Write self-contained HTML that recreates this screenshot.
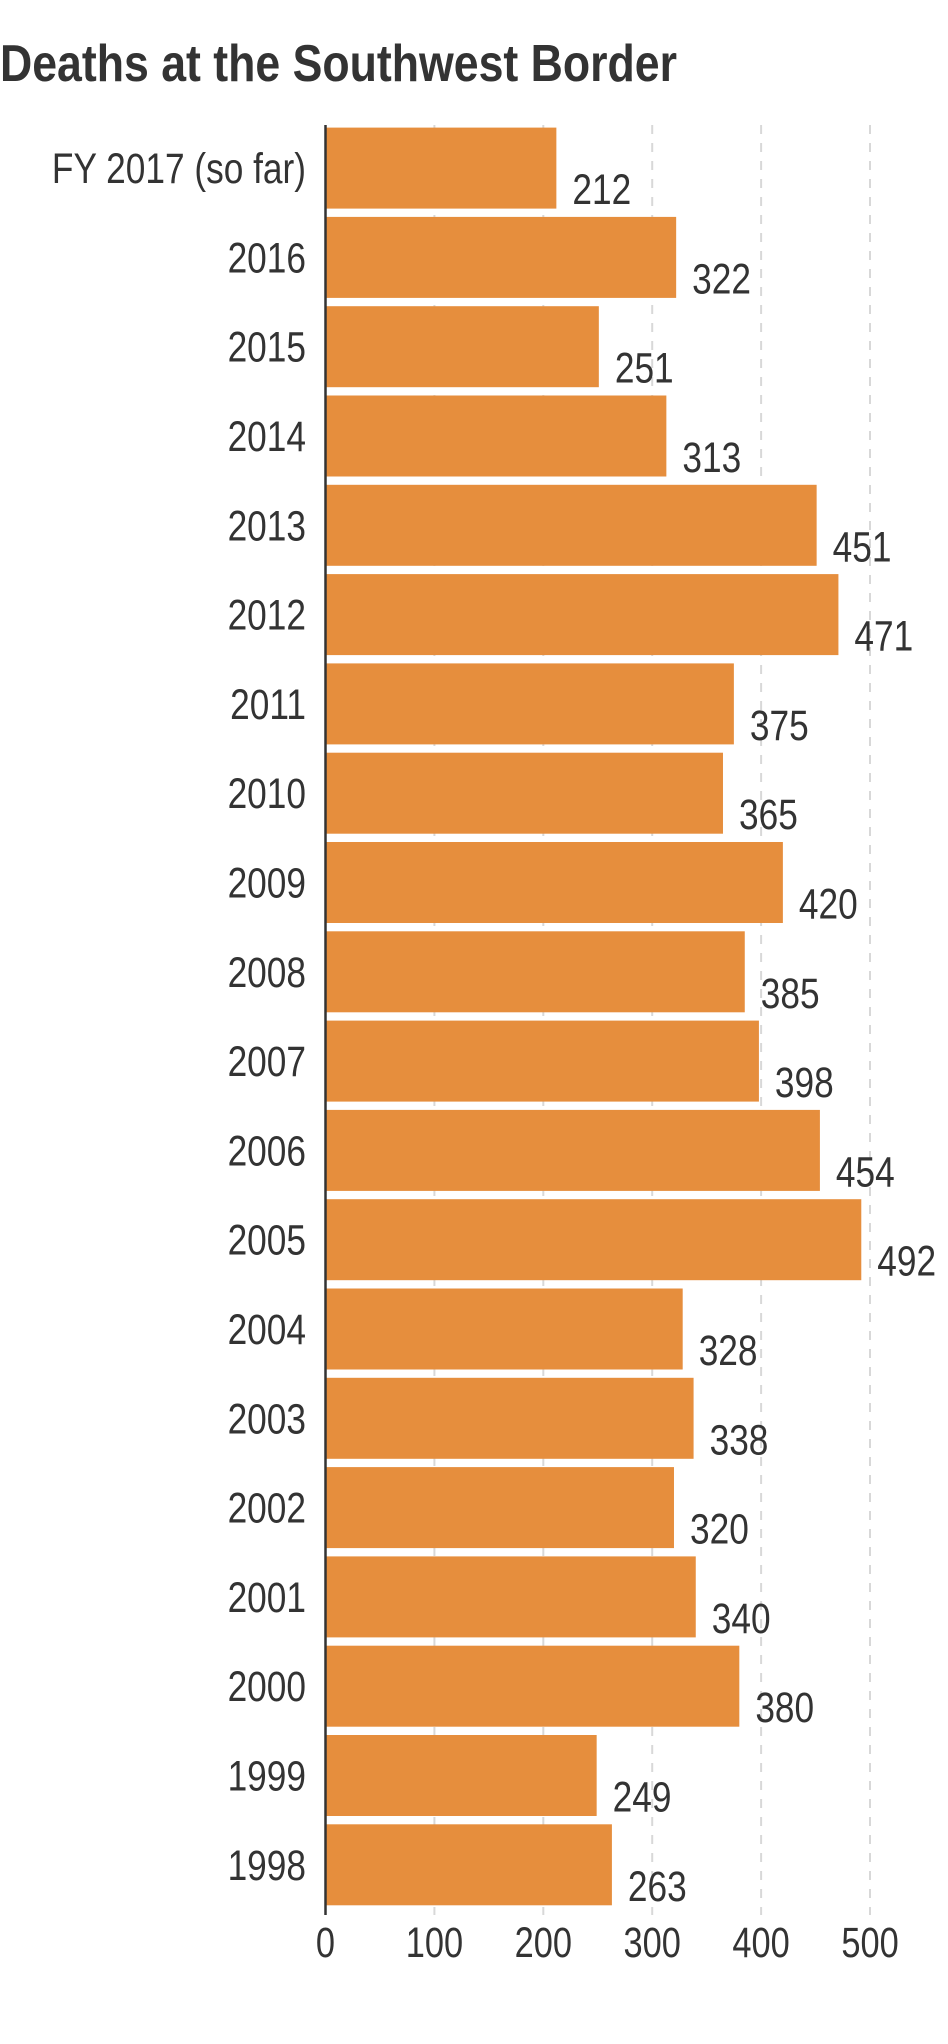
<!DOCTYPE html>
<html><head><meta charset="utf-8"><style>
html,body{margin:0;padding:0;background:#fff;}
svg{display:block;font-family:"Liberation Sans",sans-serif;}
</style></head><body>
<svg id="chart" width="948" height="2044" viewBox="0 0 948 2044">
<text x="0" y="81" font-size="52" font-weight="bold" fill="#333" textLength="677" lengthAdjust="spacingAndGlyphs">Deaths at the Southwest Border</text>
<g id="grid"></g><g id="bars"></g><g id="labels"></g>
<line x1="325.5" y1="125" x2="325.5" y2="1915" stroke="#333" stroke-width="2.5"/>
</svg>
<script>
const categories = ["FY 2017 (so far)","2016","2015","2014","2013","2012","2011","2010","2009","2008","2007","2006","2005","2004","2003","2002","2001","2000","1999","1998"];
const values = [212,322,251,313,451,471,375,365,420,385,398,454,492,328,338,320,340,380,249,263];
const ticks = [0,100,200,300,400,500];
const NS="http://www.w3.org/2000/svg";
const x0=325.5, perUnit=1.089, topY=127.6, pitch=89.3, barH=81;
const xs=v=>x0+v*perUnit;
const ys=i=>topY+i*pitch;
const grid=document.getElementById('grid'), bars=document.getElementById('bars'), labels=document.getElementById('labels');
function mk(tag,attrs){const e=document.createElementNS(NS,tag);for(const k in attrs)e.setAttribute(k,attrs[k]);return e;}
ticks.forEach(t=>{
  if(t>0){
    const l=mk('line',{x1:xs(t),x2:xs(t),y1:125,y2:1915,stroke:'#d8d8d8','stroke-width':2,'stroke-dasharray':'9,9'});
    
    
    grid.appendChild(l);
  }
  const tx=mk('text',{transform:`translate(${xs(t)},1957) scale(0.8,1)`,'text-anchor':'middle','font-size':43,fill:'#333'});
  tx.textContent=t;
  
  
  labels.appendChild(tx);
});
categories.forEach((c,i)=>{
  const y=ys(i), v=values[i];
  const r=mk('rect',{x:x0,y:y,width:xs(v)-x0,height:barH,fill:'#E68E3D'});
  
  
  bars.appendChild(r);
  const cl=mk('text',{transform:`translate(306,${y+barH/2+15}) scale(0.82,1)`,'text-anchor':'end','font-size':43,fill:'#333'});
  cl.textContent=c;
  
  
  labels.appendChild(cl);
  const vl=mk('text',{transform:`translate(${xs(v)+16},${y+barH/2+36}) scale(0.82,1)`,'font-size':43,fill:'#333'});
  vl.textContent=v;
  
  
  labels.appendChild(vl);
});
</script>
</body></html>
